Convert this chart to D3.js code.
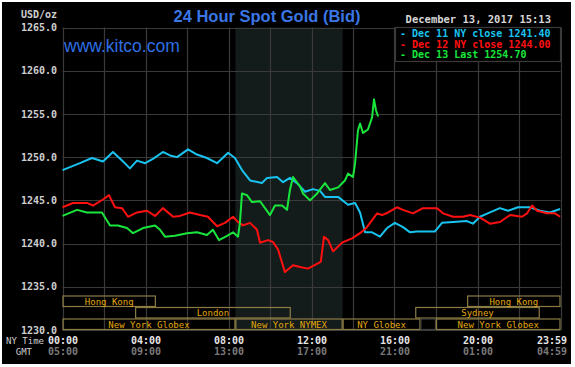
<!DOCTYPE html>
<html><head><meta charset="utf-8">
<script src="https://cdn.jsdelivr.net/npm/d3@7"></script>
<style>html,body{margin:0;padding:0;background:#fff;}svg{display:block;}</style>
</head><body>
<svg id="chart" width="575" height="367"></svg>
<script>
// ---- data ----
const dec11Hours = [0,0.84,1.42,1.95,2.43,2.87,3.25,3.59,3.98,4.36,4.84,5.18,5.52,6.05,6.48,6.96,7.45,7.98,8.31,8.65,9.04,9.61,9.86,10.34,10.63,10.96,11.30,11.69,12.07,12.41,12.65,13.28,13.76,14.10,14.34,14.58,14.92,15.30,15.64,16.02,16.41,16.75,17.08,17.95,18.29,18.82,19.49,19.78,20.12,20.60,21.08,21.47,21.95,22.53,23.01,23.49,23.98];
const dec11Prices = [1248.5,1249.3,1249.9,1249.5,1250.6,1249.6,1248.7,1249.6,1249.3,1249.8,1250.6,1250.2,1250.0,1250.9,1250.3,1249.9,1249.3,1250.5,1249.9,1248.5,1247.3,1247.0,1247.6,1247.7,1247.1,1247.6,1247.0,1246.0,1246.3,1246.1,1245.4,1245.4,1244.5,1244.7,1243.6,1241.3,1241.3,1240.8,1241.8,1242.4,1241.9,1241.3,1241.4,1241.4,1242.4,1242.5,1242.6,1242.3,1243.1,1243.6,1244.1,1243.8,1244.2,1244.2,1243.8,1243.6,1244.0];

const dec12Hours = [0,0.51,1.18,1.47,1.95,2.24,2.53,2.87,3.16,3.59,4.07,4.46,4.84,5.33,5.66,6.14,6.63,7.01,7.45,7.83,8.22,8.41,8.70,9.04,9.37,9.52,9.90,10.14,10.39,10.72,11.11,11.45,11.83,12.31,12.45,12.60,12.80,13.04,13.47,13.95,14.34,14.67,15.16,15.40,15.69,16.12,16.41,16.89,17.37,18.05,18.34,18.82,19.30,19.64,20.12,20.60,21.08,21.57,22.14,22.39,22.63,22.87,23.35,23.73,23.98];
const dec12Prices = [1244.2,1244.7,1244.7,1244.4,1245.1,1245.6,1244.2,1244.1,1243.1,1243.6,1243.8,1243.2,1244.1,1243.1,1243.2,1243.6,1243.3,1243.1,1242.0,1242.4,1243.1,1242.6,1242.1,1242.4,1241.6,1240.1,1240.4,1240.2,1239.3,1236.7,1237.5,1237.3,1237.1,1237.7,1237.9,1240.8,1240.4,1239.1,1240.1,1240.6,1241.2,1241.9,1243.5,1243.3,1243.6,1244.2,1243.9,1243.5,1244.1,1244.1,1243.5,1243.1,1243.1,1243.3,1243.0,1242.3,1242.5,1243.3,1243.1,1243.5,1244.4,1243.8,1243.5,1243.5,1243.1];

const dec13Hours = [0,0.70,1.18,1.90,2.29,2.67,3.11,3.40,3.88,4.46,4.70,4.94,5.42,6.00,6.48,6.96,7.25,7.54,7.93,8.22,8.46,8.55,8.65,8.89,9.13,9.52,9.76,10.00,10.24,10.58,10.82,10.96,11.11,11.45,11.59,11.93,12.27,12.65,12.89,13.28,13.61,13.76,14.00,14.10,14.24,14.34,14.48,14.72,14.92,15.01,15.11,15.21];
const dec13Prices = [1243.2,1243.9,1243.6,1243.6,1242.1,1242.1,1241.8,1241.2,1241.8,1242.1,1241.6,1240.8,1240.9,1241.2,1241.3,1241.0,1241.6,1240.4,1240.9,1241.3,1240.8,1242.4,1245.8,1245.6,1244.8,1244.9,1244.1,1243.3,1244.4,1244.4,1243.9,1246.2,1247.7,1246.6,1245.8,1245.0,1245.8,1247.0,1246.2,1246.5,1247.3,1248.1,1247.7,1249.3,1253.1,1253.9,1252.8,1253.2,1254.6,1256.7,1255.4,1254.7];

const seriesNames = ["Dec 11 NY close 1241.40","Dec 12 NY close 1244.00","Dec 13 Last 1254.70"];
const seriesColors = ["#19c3f0","#ff1010","#19e63c"];

const yTicks = [1230,1235,1240,1245,1250,1255,1260,1265];
const xGrid = [0,2,4,6,8,10,12,14,16,18,20,22,24];
const xLabelHours = [0,4,8,12,16,20,24];
const nyLabels = ["00:00","04:00","08:00","12:00","16:00","20:00","23:59"];
const gmtLabels = ["05:00","09:00","13:00","17:00","21:00","01:00","04:59"];

const nyHoursShade = [8.333, 13.5];
const sessionRows = [0,0,1,1,2,2,2,2,2];
const sessionStart = [0,19.5,3.5,17,0,8.333,13.5,17.25,18];
const sessionEnd = [4.5,24,11,23,8.333,13.5,17.25,18,24];
const sessionLabels = ["Hong Kong","Hong Kong","London","Sydney","New York Globex","New York NYMEX","NY Globex","","New York Globex"];

const titleText = "24 Hour Spot Gold (Bid)";
const dateText = "December 13, 2017 15:13";

// ---- drawing ----
const svg = d3.select("#chart");
const L = 62.5, R = 560.5, T = 27.5, B = 330;
const x = d3.scaleLinear().domain([0,24]).range([L,R]);
const y = d3.scaleLinear().domain([1230,1265]).range([B,T]);
const mono = "'DejaVu Sans Mono', monospace";

svg.append("rect").attr("x",2).attr("y",2).attr("width",569).attr("height",362).attr("fill","#000");

// shaded NY session
svg.append("rect").attr("x",x(nyHoursShade[0])).attr("y",T)
  .attr("width",x(nyHoursShade[1])-x(nyHoursShade[0])).attr("height",B-T).attr("fill","#141b1b");

// grid
const grid = svg.append("g").attr("stroke","#3a3a3a").attr("stroke-width",1.2);
grid.selectAll(".v").data(xGrid).join("line")
  .attr("x1",d=>Math.round(x(d))+0.5).attr("x2",d=>Math.round(x(d))+0.5).attr("y1",T).attr("y2",B);
grid.selectAll(".h").data(yTicks).join("line")
  .attr("y1",d=>Math.round(y(d))+0.5).attr("y2",d=>Math.round(y(d))+0.5).attr("x1",L).attr("x2",R);

// y axis labels
const yAxis = d3.axisLeft(y).tickValues(yTicks).tickSize(0).tickPadding(5).tickFormat(d3.format(".1f"));
const gy = svg.append("g").attr("transform",`translate(${L-0.5},0)`).call(yAxis);
gy.select(".domain").remove();
gy.selectAll("text").attr("fill","#cfcfcf").attr("font-family",mono).attr("font-size","10px").attr("font-weight","bold");

svg.append("text").attr("x",57).attr("y",18).attr("text-anchor","end").attr("fill","#cfcfcf")
  .attr("font-family",mono).attr("font-size","10px").attr("font-weight","bold").text("USD/oz");

// bottom axes
const nyAxis = d3.axisBottom(x).tickValues(xLabelHours).tickSize(0).tickPadding(0)
  .tickFormat((d,i)=>nyLabels[i]);
const gx = svg.append("g").attr("transform",`translate(0,${B})`).call(nyAxis);
gx.select(".domain").remove();
gx.selectAll("text").attr("fill","#e6e6e6").attr("font-family",mono).attr("font-size","10px").attr("font-weight","bold").attr("y",14).attr("dy",0);
gx.selectAll(".tick").filter(d=>d===24).select("text").attr("text-anchor","end").attr("dx",6);

const gmtAxis = d3.axisBottom(x).tickValues(xLabelHours).tickSize(0).tickPadding(0)
  .tickFormat((d,i)=>gmtLabels[i]);
const gg = svg.append("g").attr("transform",`translate(0,${B})`).call(gmtAxis);
gg.select(".domain").remove();
gg.selectAll("text").attr("fill","#7a7a7a").attr("font-family",mono).attr("font-size","10px").attr("font-weight","bold").attr("y",25).attr("dy",0);
gg.selectAll(".tick").filter(d=>d===24).select("text").attr("text-anchor","end").attr("dx",6);

svg.append("text").attr("x",44).attr("y",344).attr("text-anchor","end").attr("fill","#cfcfcf")
  .attr("font-family",mono).attr("font-size","9px").text("NY Time");
svg.append("text").attr("x",32).attr("y",355).attr("text-anchor","end").attr("fill","#cfcfcf")
  .attr("font-family",mono).attr("font-size","9px").text("GMT");

// sessions
const rowH = 11.5, rowTop = B - 3*rowH;
const sess = sessionRows.map((r,i)=>({r, s:sessionStart[i], e:sessionEnd[i], label:sessionLabels[i]}));
const sg = svg.append("g");
sg.selectAll("rect").data(sess).join("rect")
  .attr("x",d=>x(d.s)+0.5).attr("y",d=>rowTop + d.r*rowH+0.5)
  .attr("width",d=>x(d.e)-x(d.s)-1).attr("height",rowH-1)
  .attr("fill","none").attr("stroke",d=>d.label?"#8c7c44":"#404040").attr("stroke-width",1.2);
sg.selectAll("text").data(sess).join("text")
  .attr("x",d=>(x(d.s)+x(d.e))/2).attr("y",d=>rowTop + d.r*rowH + 9)
  .attr("text-anchor","middle").attr("fill","#e3a80c").attr("font-family",mono).attr("font-size","9px")
  .text(d=>d.label);

// series lines
const line = d3.line().x(d=>x(d[0])).y(d=>y(d[1]));
const series = [
  d3.zip(dec11Hours, dec11Prices),
  d3.zip(dec12Hours, dec12Prices),
  d3.zip(dec13Hours, dec13Prices)
];
svg.append("g").selectAll("path").data(series).join("path")
  .attr("d",line).attr("fill","none").attr("stroke",(d,i)=>seriesColors[i]).attr("stroke-width",2).attr("stroke-linejoin","round");

// legend
svg.append("rect").attr("x",395.5).attr("y",T).attr("width",R-395.5).attr("height",34)
  .attr("fill","#000").attr("stroke","#3a3a3a").attr("stroke-width",1.2);
svg.append("g").selectAll("text").data(seriesNames).join("text")
  .attr("x",400).attr("y",(d,i)=>37+i*10.5).attr("fill",(d,i)=>seriesColors[i])
  .attr("font-family",mono).attr("font-size","10px").attr("font-weight","bold")
  .text(d=>"- "+d);

// titles
svg.append("text").attr("x",267).attr("y",22).attr("text-anchor","middle").attr("fill","#3a76e4")
  .attr("font-family","'Liberation Sans', Arial, sans-serif").attr("font-size","16.5px").attr("font-weight","bold").text(titleText);
svg.append("text").attr("x",64).attr("y",51.5).attr("fill","#2f6fe3")
  .attr("font-family","'Liberation Sans', Arial, sans-serif").attr("font-size","17.5px").text("www.kitco.com");
svg.append("text").attr("x",551).attr("y",23).attr("text-anchor","end").attr("fill","#d6d6d6")
  .attr("font-family",mono).attr("font-size","10.5px").attr("font-weight","bold").text(dateText);
</script>
</body></html>
